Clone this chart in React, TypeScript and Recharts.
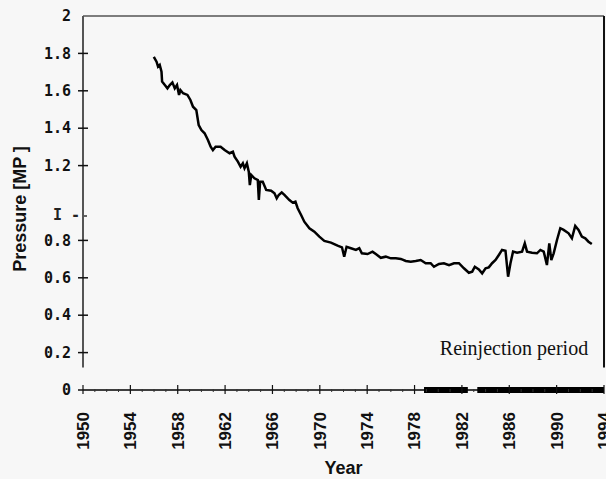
import * as React from 'react';
import { LineChart, Line, XAxis, YAxis, ReferenceLine } from 'recharts';

// pressure record (year, MPa)
const pressureYears = [
  1955.98, 1956.21, 1956.34, 1956.48, 1956.63, 1956.68, 1956.91, 1957.13, 1957.33, 1957.55,
  1957.75, 1957.94, 1958.11, 1958.23, 1958.45, 1958.82, 1959.07, 1959.29, 1959.57, 1959.77,
  1960.0, 1960.27, 1960.55, 1960.78, 1960.97, 1961.2, 1961.62, 1961.96, 1962.38, 1962.66,
  1962.8, 1963.08, 1963.31, 1963.5, 1963.64, 1963.84, 1964.0, 1964.09, 1964.21, 1964.48,
  1964.76, 1964.85, 1964.96, 1965.18, 1965.47, 1965.89, 1966.17, 1966.36, 1966.53, 1966.78,
  1967.01, 1967.43, 1967.71, 1967.94, 1968.13, 1968.42, 1968.69, 1969.12, 1969.54, 1969.96,
  1970.38, 1970.94, 1971.5, 1971.87, 1972.06, 1972.26, 1972.63, 1973.05, 1973.33, 1973.55,
  1974.03, 1974.45, 1974.73, 1975.15, 1975.57, 1976.0, 1976.42, 1976.84, 1977.26, 1977.68,
  1978.1, 1978.52, 1978.94, 1979.36, 1979.64, 1980.06, 1980.48, 1980.91, 1981.33, 1981.75,
  1982.17, 1982.59, 1982.87, 1983.09, 1983.43, 1983.71, 1984.0, 1984.27, 1984.55, 1984.84,
  1985.12, 1985.39, 1985.68, 1985.9, 1986.1, 1986.32, 1986.66, 1987.08, 1987.31, 1987.5,
  1987.92, 1988.34, 1988.63, 1988.91, 1989.18, 1989.38, 1989.55, 1989.75, 1990.03, 1990.31,
  1990.59, 1991.01, 1991.29, 1991.57, 1991.85, 1992.13, 1992.42, 1992.69, 1992.97,
];

const pressureValues = [
  1.782, 1.756, 1.729, 1.738, 1.702, 1.649, 1.631, 1.613, 1.631, 1.645,
  1.613, 1.631, 1.578, 1.604, 1.587, 1.578, 1.551, 1.515, 1.497, 1.417,
  1.39, 1.373, 1.337, 1.301, 1.283, 1.301, 1.301, 1.283, 1.266, 1.274,
  1.248, 1.221, 1.194, 1.212, 1.186, 1.212, 1.167, 1.096, 1.15, 1.132,
  1.123, 1.016, 1.114, 1.114, 1.07, 1.066, 1.052, 1.025, 1.043, 1.057,
  1.043, 1.016, 1.002, 1.007, 0.972, 0.936, 0.9, 0.865, 0.847, 0.82,
  0.797, 0.788, 0.772, 0.763, 0.713, 0.766, 0.758, 0.749, 0.758, 0.731,
  0.727, 0.74, 0.727, 0.707, 0.713, 0.704, 0.704, 0.701, 0.69, 0.686,
  0.69, 0.695, 0.678, 0.678, 0.659, 0.674, 0.678, 0.668, 0.678, 0.678,
  0.651, 0.627, 0.633, 0.659, 0.645, 0.624, 0.651, 0.656, 0.678, 0.695,
  0.722, 0.749, 0.745, 0.606, 0.678, 0.74, 0.734, 0.74, 0.784, 0.74,
  0.734, 0.731, 0.749, 0.74, 0.668, 0.784, 0.695, 0.731, 0.802, 0.865,
  0.856, 0.838, 0.811, 0.877, 0.856, 0.82, 0.811, 0.793, 0.781,
];

// reinjection periods shown as a heavy bar on the time axis
const reinjYears = [1978.8, 1982.5, 1982.9, 1983.3, 1994];
const reinjValues = [0, 0, null, 0, 0];

const yTicks = [0, 0.2, 0.4, 0.6, 0.8, 1, 1.2, 1.4, 1.6, 1.8, 2];
const yearTicks: number[] = [];
for (let y = 1950; y <= 1994; y++) yearTicks.push(y);

const pressureData = pressureYears.map((year, i) => ({ year, pressure: pressureValues[i] }));
const reinjData = reinjYears.map((year, i) => ({ year, reinj: reinjValues[i] }));

const monoFont = '"DejaVu Sans Mono", monospace';
const sansFont = '"Liberation Sans", Arial, sans-serif';

function PressureTick({ x, y, payload }: any) {
  const v = payload.value;
  if (v === 1) {
    // the scanned "1" tick came out as "I - -"
    return (
      <g>
        <text x={x - 3} y={y + 12} dy="0.35em" textAnchor="end" fontFamily={monoFont} fontWeight="bold" fontSize={15} fill="#222">
          I -
        </text>
        <line x1={x + 1} x2={x + 4} y1={y + 13} y2={y + 13} stroke="#333" strokeWidth={1.5} />
      </g>
    );
  }
  return (
    <g>
      {v !== 2 && (
        <line x1={x - 5} x2={v === 0 ? x : x + 5} y1={y} y2={y} stroke="#111" strokeWidth={1.5} />
      )}
      <text x={x - 12} y={y} dy="0.35em" textAnchor="end" fontFamily={monoFont} fontWeight="bold" fontSize={15} fill="#111">
        {String(v)}
      </text>
    </g>
  );
}

function YearTick({ x, y, payload }: any) {
  const v = payload.value;
  const major = (v - 1950) % 4 === 0;
  if (!major) {
    return <line x1={x} x2={x} y1={y - 1} y2={y + 2} stroke="#333" strokeWidth={1} />;
  }
  const ty = y + 22;
  return (
    <g>
      <line x1={x} x2={x} y1={y - 5} y2={y + 4} stroke="#111" strokeWidth={1.2} />
      <text
        x={x}
        y={ty}
        dy="0.35em"
        textAnchor="end"
        transform={`rotate(-90, ${x}, ${ty})`}
        fontFamily={sansFont}
        fontWeight="bold"
        fontSize={17}
        fill="#111"
      >
        {v}
      </text>
    </g>
  );
}

export default function App() {
  return (
    <div style={{ position: 'absolute', left: 0, top: 0, width: 606, height: 479, background: '#f7f7f7' }}>
      <LineChart width={606} height={479} margin={{ top: 16, right: 2, bottom: 0, left: 0 }}>
        <XAxis
          dataKey="year"
          type="number"
          domain={[1950, 1994]}
          ticks={yearTicks}
          interval={0}
          allowDuplicatedCategory={false}
          height={89}
          tickSize={0}
          tickMargin={0}
          tickLine={false}
          axisLine={{ stroke: '#000', strokeWidth: 1.5 }}
          tick={<YearTick />}
          label={{ value: 'Year', position: 'insideBottom', offset: 5, fontFamily: sansFont, fontWeight: 'bold', fontSize: 18, fill: '#111' }}
        />
        <YAxis
          type="number"
          domain={[0, 2]}
          ticks={yTicks}
          interval={0}
          width={83}
          tickSize={0}
          tickMargin={0}
          tickLine={false}
          axisLine={false}
          tick={<PressureTick />}
        />
        {/* frame: left axis stub, top and right borders */}
        <ReferenceLine segment={[{ x: 1950, y: 0.12 }, { x: 1950, y: 2 }]} stroke="#555" strokeWidth={2} />
        <ReferenceLine y={2} stroke="#555" strokeWidth={1.5} />
        <ReferenceLine segment={[{ x: 1994, y: 0.12 }, { x: 1994, y: 2 }]} stroke="#111" strokeWidth={2} />
        <Line
          data={reinjData}
          dataKey="reinj"
          type="linear"
          stroke="#000"
          strokeWidth={6}
          dot={false}
          connectNulls={false}
          isAnimationActive={false}
        />
        <Line
          data={pressureData}
          dataKey="pressure"
          type="linear"
          stroke="#000"
          strokeWidth={2.5}
          dot={false}
          isAnimationActive={false}
        />
        <text
          x={20}
          y={209}
          dy="0.35em"
          textAnchor="middle"
          transform="rotate(-90, 20, 209)"
          fontFamily={sansFont}
          fontWeight="bold"
          fontSize={18}
          fill="#111"
        >
          Pressure [MP ]
        </text>
        <text x={514} y={355} textAnchor="middle" fontFamily='"Liberation Serif", "Times New Roman", serif' fontSize={20} fill="#111">
          Reinjection period
        </text>
      </LineChart>
    </div>
  );
}
